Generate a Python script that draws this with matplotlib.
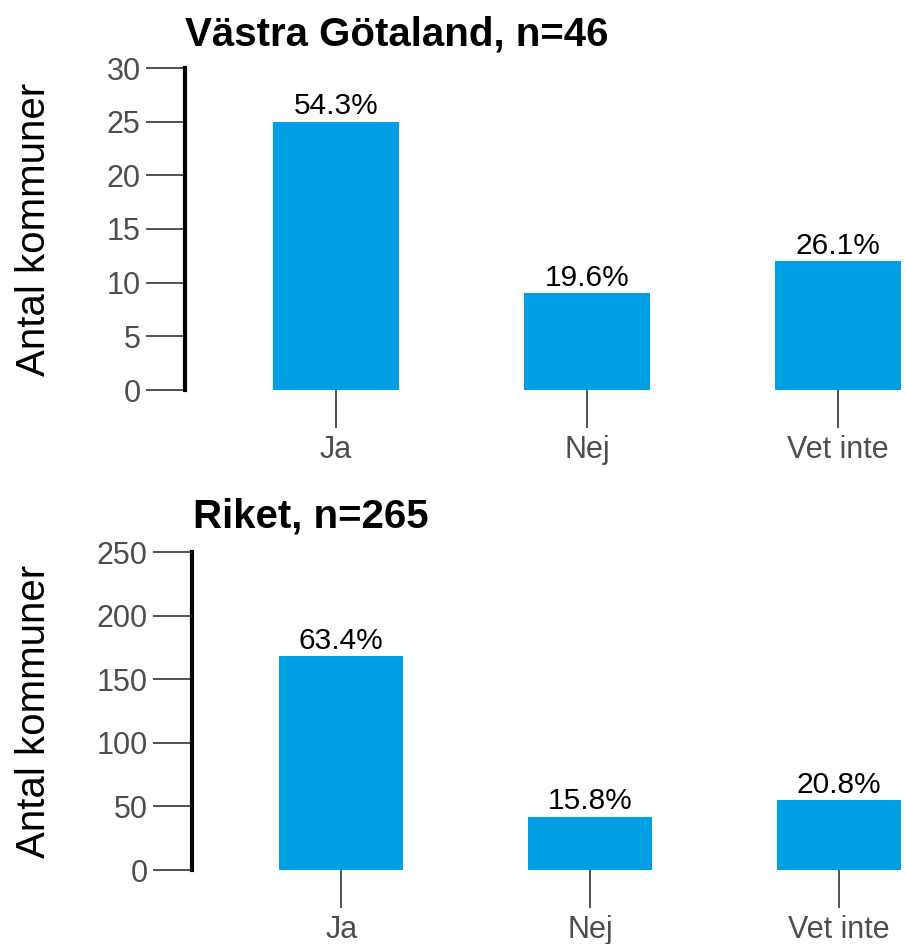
import matplotlib
matplotlib.use("Agg")
import matplotlib.pyplot as plt

# ---------------------------------------------------------------------------
# Data
# ---------------------------------------------------------------------------

categories = ["Ja", "Nej", "Vet inte"]

vg_counts = [25, 9, 12]
vg_pct = ["54.3%", "19.6%", "26.1%"]
vg_title = "Västra Götaland, n=46"
vg_yticks = [0, 5, 10, 15, 20, 25, 30]

riket_counts = [168, 42, 55]
riket_pct = ["63.4%", "15.8%", "20.8%"]
riket_title = "Riket, n=265"
riket_yticks = [0, 50, 100, 150, 200, 250]

BAR_COLOR = "#009FE3"
TICK_GREY = "#4D4D4D"
W, H = 906, 944

plt.rcParams["font.family"] = ["Liberation Sans", "DejaVu Sans"]


def px_rect(left, top, right, bottom):
    """pixel box (image coords) -> figure fraction rect"""
    return [left / W, (H - bottom) / H, (right - left) / W, (bottom - top) / H]


def draw_panel(fig, box, counts, pct, yticks, title, title_xy, ylabel_px):
    ax = fig.add_axes(px_rect(*box))
    x = range(1, len(categories) + 1)
    bars = ax.bar(x, counts, width=0.5, color=BAR_COLOR, zorder=2)

    for b, lab in zip(bars, pct):
        ax.annotate(lab, (b.get_x() + b.get_width() / 2, b.get_height()),
                    xytext=(0, 1), textcoords="offset points",
                    ha="center", va="bottom", fontsize=21.5, color="black")

    ax.set_xlim(1 - 0.6, 3.27)
    ax.set_ylim(0, yticks[-1])
    ax.set_xticks(list(x))
    ax.set_xticklabels(categories)
    ax.set_yticks(yticks)

    for s in ["top", "right", "bottom"]:
        ax.spines[s].set_visible(False)
    ax.spines["left"].set_linewidth(3)
    ax.spines["left"].set_color("black")
    ax.spines["left"].set_bounds(0, yticks[-1])

    ax.tick_params(axis="y", length=28, width=1.2, color="#333333",
                   labelsize=22, labelcolor=TICK_GREY, pad=4)
    ax.tick_params(axis="x", length=27, width=1.2, color="#333333",
                   labelsize=22, labelcolor=TICK_GREY, pad=5.5)

    # y label: baseline sits at a fixed pixel column
    ax.set_ylabel("Antal kommuner", fontsize=29, color="black", va="baseline")
    left, right = box[0], box[2]
    ax.yaxis.set_label_coords((ylabel_px - left) / (right - left), 0.5)
    ax.patch.set_alpha(0)

    fig.text(title_xy[0] / W, (H - title_xy[1]) / H, title,
             fontsize=29, fontweight="bold", ha="left", va="baseline")
    return ax


fig = plt.figure(figsize=(W / 100, H / 100), dpi=100)

draw_panel(fig, (185, 68, 906, 390), vg_counts, vg_pct, vg_yticks,
           vg_title, (185, 45), 45)
draw_panel(fig, (192, 552, 906, 870), riket_counts, riket_pct, riket_yticks,
           riket_title, (193, 527), 45)

fig.savefig("out.png", dpi=100, facecolor="white")
